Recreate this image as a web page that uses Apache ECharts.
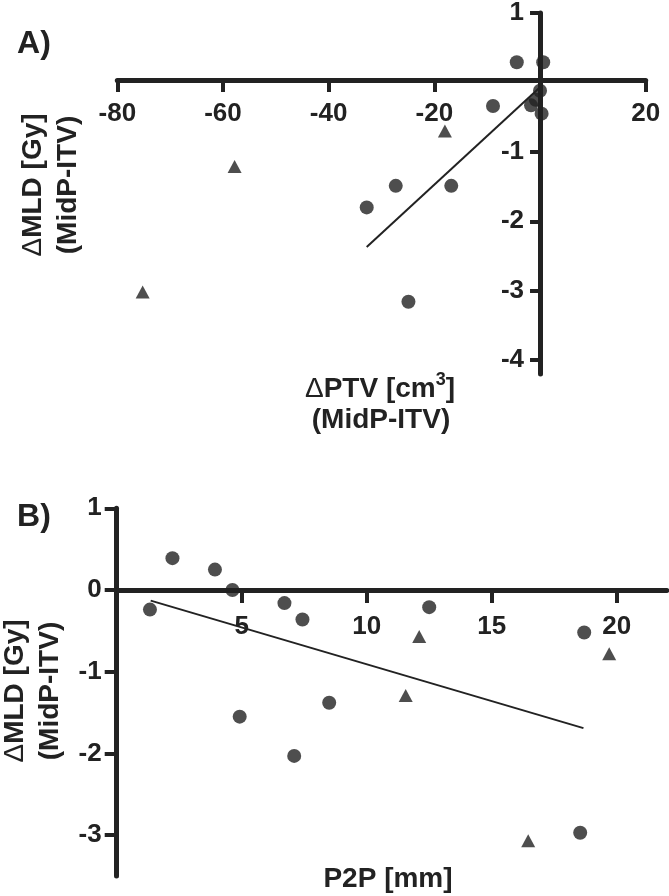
<!DOCTYPE html>
<html>
<head>
<meta charset="utf-8">
<script src="https://cdn.jsdelivr.net/npm/echarts@6/dist/echarts.min.js"></script>
<style>
html,body{margin:0;padding:0;background:#fff;}
#chart{width:669px;height:896px;}
</style>
</head>
<body>
<div id="chart"></div>
<script>
// ---------- Panel A data ----------
const aXTicks = [-80, -60, -40, -20, 20];
const aYTicks = [1, -1, -2, -3, -4];
const aCircleX = [-32.8, -27.3, -24.9, -16.8, -8.9, -4.4, 0.6, 0.0, -0.8, -1.7, 0.3];
const aCircleY = [-1.80, -1.49, -3.16, -1.49, -0.34, 0.29, 0.29, -0.12, -0.25, -0.33, -0.45];
const aTriX = [-75.2, -57.8, -18.0];
const aTriY = [-3.02, -1.21, -0.70];
const aFitX = [-32.8, 0.0];
const aFitY = [-2.37, -0.07];

// ---------- Panel B data ----------
const bXTicks = [5, 10, 15, 20];
const bYTicks = [1, 0, -1, -2, -3];
const bCircleX = [1.33, 2.23, 3.93, 4.63, 6.71, 7.43, 12.5, 18.7, 4.92, 7.1, 8.5, 18.54];
const bCircleY = [-0.24, 0.39, 0.25, 0.0, -0.16, -0.36, -0.21, -0.52, -1.55, -2.03, -1.38, -2.97];
const bTriX = [12.1, 19.7, 11.56, 16.46];
const bTriY = [-0.57, -0.78, -1.29, -3.07];
const bFitX = [1.36, 18.67];
const bFitY = [-0.13, -1.69];

const INK = '#222';
const FONT = "'Liberation Sans', Arial, Helvetica, sans-serif";
const zip = (xs, ys) => xs.map((x, i) => [x, ys[i]]);

// layout
const gridA = { left: 117.3, top: 10, width: 528.4, height: 364 };
const gridB = { left: 116.7, top: 508.3, width: 550, height: 367.7 };
const rangeA = { xMin: -80, xMax: 20, yMin: -4.2, yMax: 1 };
const rangeB = { xMin: 0, xMax: 22, yMin: -3.5, yMax: 1 };
// offset that brings the bottom x axis up to y = 0, and the left y axis to x = 0
const xZeroOffset = (g, r) => -g.height * (0 - r.yMin) / (r.yMax - r.yMin);
const yZeroOffset = (g, r) => -g.width * (0 - r.xMin) / (r.xMax - r.xMin);

function valueAxis(opts) {
  return Object.assign({
    type: 'value',
    splitLine: { show: false },
    axisLine: { show: true, onZero: false, lineStyle: { color: INK, width: 5 } },
  }, opts);
}
const tick = (len, vals) => ({ show: true, length: len, customValues: vals, lineStyle: { color: INK, width: 4 } });
const label = (margin, vals) => ({ color: INK, fontFamily: FONT, fontWeight: 'bold', fontSize: 26, margin: margin, customValues: vals });

const richTitle = {
  d: { fontFamily: FONT, fontWeight: 'normal', fontSize: 28, lineHeight: 35, fill: INK, color: INK },
  m: { fontFamily: FONT, fontWeight: 'bold', fontSize: 28, lineHeight: 35, fill: INK, color: INK },
  s: { fontFamily: FONT, fontWeight: 'bold', fontSize: 18, lineHeight: 18, verticalAlign: 'top', fill: INK, color: INK }
};
const centerStyle = { align: 'center', verticalAlign: 'middle', textAlign: 'center', textVerticalAlign: 'middle' };

const chart = echarts.init(document.getElementById('chart'), null, { renderer: 'canvas' });

const option = {
  backgroundColor: '#fff',
  animation: false,
  grid: [gridA, gridB],
  xAxis: [
    valueAxis({
      gridIndex: 0, position: 'bottom', offset: xZeroOffset(gridA, rangeA),
      min: rangeA.xMin, max: rangeA.xMax, interval: 20,
      axisTick: tick(12, aXTicks), axisLabel: label(21, aXTicks)
    }),
    valueAxis({
      gridIndex: 1, position: 'bottom', offset: xZeroOffset(gridB, rangeB),
      min: rangeB.xMin, max: rangeB.xMax, interval: 5,
      axisTick: tick(13, bXTicks), axisLabel: label(24, bXTicks)
    })
  ],
  yAxis: [
    valueAxis({
      gridIndex: 0, position: 'left', offset: yZeroOffset(gridA, rangeA),
      min: rangeA.yMin, max: rangeA.yMax,
      axisTick: tick(10, aYTicks), axisLabel: label(16, aYTicks)
    }),
    valueAxis({
      gridIndex: 1, position: 'left', offset: yZeroOffset(gridB, rangeB),
      min: rangeB.yMin, max: rangeB.yMax,
      axisTick: tick(12, bYTicks), axisLabel: label(15, bYTicks)
    })
  ],
  series: [
    { type: 'line', xAxisIndex: 0, yAxisIndex: 0, data: zip(aFitX, aFitY), showSymbol: false, symbol: 'none',
      lineStyle: { color: INK, width: 2 }, z: 2 },
    { type: 'scatter', xAxisIndex: 0, yAxisIndex: 0, data: zip(aCircleX, aCircleY), symbol: 'circle', symbolSize: 14,
      itemStyle: { color: INK }, z: 3 },
    { type: 'scatter', xAxisIndex: 0, yAxisIndex: 0, data: zip(aTriX, aTriY), symbol: 'triangle', symbolSize: [14, 13],
      itemStyle: { color: INK }, z: 3 },
    { type: 'line', xAxisIndex: 1, yAxisIndex: 1, data: zip(bFitX, bFitY), showSymbol: false, symbol: 'none',
      lineStyle: { color: INK, width: 2 }, z: 2 },
    { type: 'scatter', xAxisIndex: 1, yAxisIndex: 1, data: zip(bCircleX, bCircleY), symbol: 'circle', symbolSize: 14,
      itemStyle: { color: INK }, z: 3 },
    { type: 'scatter', xAxisIndex: 1, yAxisIndex: 1, data: zip(bTriX, bTriY), symbol: 'triangle', symbolSize: [14, 13],
      itemStyle: { color: INK }, z: 3 }
  ],
  graphic: [
    { type: 'text', x: 34, y: 44, style: Object.assign({ text: 'A)', font: "bold 32px " + FONT, fill: INK }, centerStyle) },
    { type: 'text', x: 34, y: 517, style: Object.assign({ text: 'B)', font: "bold 32px " + FONT, fill: INK }, centerStyle) },
    { type: 'text', x: 51, y: 185, rotation: Math.PI / 2,
      style: Object.assign({ text: '{d|Δ}{m|MLD [Gy]}\n{m|(MidP-ITV)}', fill: INK, rich: richTitle }, centerStyle) },
    { type: 'text', x: 33, y: 691, rotation: Math.PI / 2,
      style: Object.assign({ text: '{d|Δ}{m|MLD [Gy]}\n{m|(MidP-ITV)}', fill: INK, rich: richTitle }, centerStyle) },
    { type: 'text', x: 380, y: 389,
      style: Object.assign({ text: '{d|Δ}{m|PTV [cm}{s|3}{m|]}', fill: INK, rich: richTitle }, centerStyle) },
    { type: 'text', x: 381, y: 420,
      style: Object.assign({ text: '(MidP-ITV)', font: "bold 28px " + FONT, fill: INK }, centerStyle) },
    { type: 'text', x: 388, y: 879,
      style: Object.assign({ text: 'P2P [mm]', font: "bold 28px " + FONT, fill: INK }, centerStyle) }
  ]
};

chart.setOption(option);
</script>
</body>
</html>
